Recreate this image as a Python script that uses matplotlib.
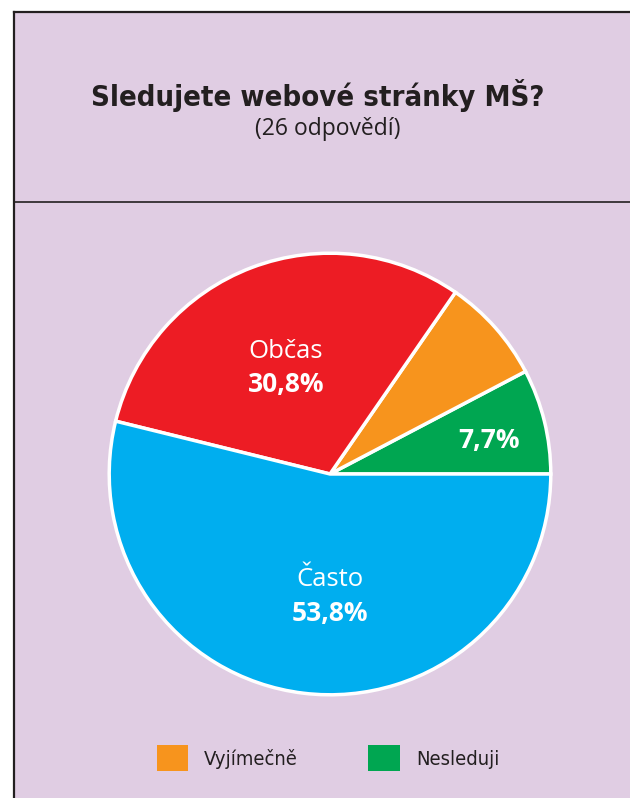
import matplotlib
matplotlib.use("Agg")
from matplotlib import pyplot as plt
from matplotlib.patches import Rectangle
from matplotlib.lines import Line2D

# survey answers (26 responses)
categories = ["Nesleduji", "Vyjímečně", "Občas", "Často"]
counts = [2, 2, 8, 14]
colors = ["#00a651", "#f7941d", "#ed1c24", "#00aeef"]
shown_names = ["", "", "Občas", "Často"]
shown_pct = [True, False, True, True]
legend_items = ["Vyjímečně", "Nesleduji"]

title = "Sledujete webové stránky MŠ?"
subtitle = "(26 odpovědí)"

W, H = 630, 798
bg = "#e0cde3"
fig = plt.figure(figsize=(W / 100, H / 100), dpi=100)
fig.patch.set_facecolor("white")

# panel background + borders
fig.patches.append(Rectangle((14 / W, 0), 1, 1 - 12 / H, transform=fig.transFigure,
                             facecolor=bg, edgecolor="none", zorder=-5))
fig.lines.append(Line2D([14 / W, 14 / W], [0, 1 - 12 / H], transform=fig.transFigure,
                        color="#231f20", lw=1.6, zorder=-4))
fig.lines.append(Line2D([14 / W, 1], [1 - 12 / H, 1 - 12 / H], transform=fig.transFigure,
                        color="#231f20", lw=1.6, zorder=-4))
fig.lines.append(Line2D([14 / W, 1], [1 - 202 / H, 1 - 202 / H], transform=fig.transFigure,
                        color="#231f20", lw=1.2, zorder=-4))

fig.text(318 / W, 1 - 95 / H, title, ha="center", va="center", fontsize=21,
         fontweight="bold", fontstretch="condensed", color="#231f20", family="DejaVu Sans")
fig.text(328 / W, 1 - 129 / H, subtitle, ha="center", va="center", fontsize=16.5,
         color="#231f20", family=["Open Sans", "DejaVu Sans"])

# pie
cx, cy, r = 330, 474, 223
ax = fig.add_axes([(cx - r) / W, (H - cy - r) / H, 2 * r / W, 2 * r / H])
ax.set_facecolor("none")
wedges, _ = ax.pie(counts, colors=colors, startangle=0, counterclock=True,
                   wedgeprops=dict(edgecolor="white", linewidth=2.5))
ax.set_xlim(-1.01, 1.01)
ax.set_ylim(-1.01, 1.01)
ax.set_aspect("equal")

total = sum(counts)
label_pos = [(0.72, 0.15), None, (-0.20, 0.48), (0.0, -0.555)]
for name, c, show, pos in zip(shown_names, counts, shown_pct, label_pos):
    if not show or pos is None:
        continue
    pct = f"{100 * c / total:.1f}%".replace(".", ",")
    x, y = pos
    if name:
        ax.text(x, y + 0.075, name, ha="center", va="center", fontsize=18.5, color="white",
                family=["Open Sans", "DejaVu Sans"])
        ax.text(x, y - 0.075, pct, ha="center", va="center", fontsize=19, color="white",
                fontweight="bold", family=["Open Sans", "DejaVu Sans"])
    else:
        ax.text(x, y, pct, ha="center", va="center", fontsize=19, color="white",
                fontweight="bold", family=["Open Sans", "DejaVu Sans"])

handles = [wedges[categories.index(n)] for n in legend_items]
leg = fig.legend(handles, legend_items, loc="center", bbox_to_anchor=(328 / W, 1 - 758 / H),
                 ncol=2, frameon=False, handlelength=1.55, handleheight=1.55,
                 handletextpad=0.8, columnspacing=3.5,
                 prop=dict(family="DejaVu Sans", stretch="condensed", size=14.5))
for h in leg.legend_handles:
    h.set_edgecolor("none")
for t in leg.get_texts():
    t.set_color("#231f20")

fig.savefig("out.png", dpi=100, facecolor=fig.get_facecolor())
